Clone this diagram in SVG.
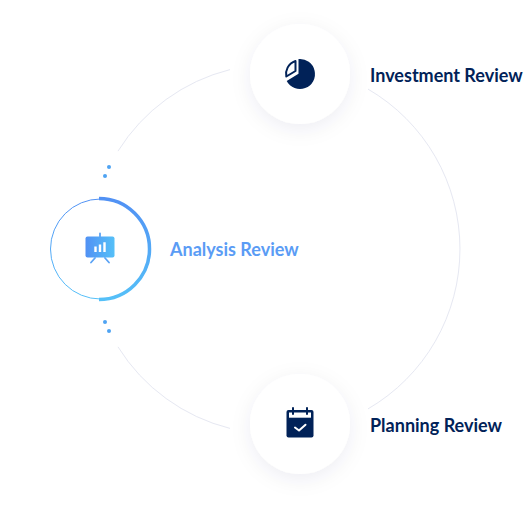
<svg xmlns="http://www.w3.org/2000/svg" width="530" height="514" viewBox="0 0 530 514">
<style>
.lbl{font-family:Lato,"Liberation Sans",sans-serif;font-weight:700;font-size:18px}
.arc{fill:none;stroke:#e6e8f2;stroke-width:1}
.dot{fill:#4fa3f3}
.navy{fill:#012258}
</style>
<defs>
<linearGradient id="g" x1="0" y1="0" x2="0" y2="1"><stop offset="0" stop-color="#5191f4"/><stop offset="1" stop-color="#55c0f8"/></linearGradient>
<linearGradient id="h" x1="0" y1="0" x2="1" y2="0"><stop offset="0" stop-color="#5191f4"/><stop offset="1" stop-color="#55c0f8"/></linearGradient>
<filter id="s" x="-40%" y="-40%" width="180%" height="180%"><feDropShadow dx="0" dy="5" stdDeviation="10" flood-color="#1c2a5a" flood-opacity="0.07"/></filter>
</defs>
<rect width="530" height="514" fill="#fff"/>
<g id="connectors">
<path class="arc" d="M230 69.600A185 185 0 0 0 118 151.100"/>
<path class="arc" d="M368 89.100A185 185 0 0 1 368 408.900"/>
<path class="arc" d="M118 346.900A185 185 0 0 0 230 428.400"/>
<circle class="dot" cx="109" cy="167" r="2"/>
<circle class="dot" cx="105" cy="176" r="2"/>
<circle class="dot" cx="105" cy="322" r="2"/>
<circle class="dot" cx="109" cy="331" r="2"/>
</g>
<g id="investment">
<circle cx="300" cy="74" r="50" fill="#fff" filter="url(#s)"/>
<path class="navy" d="M298.500 59.100A15 15 0 1 1 286.700 81L298.500 73.800Z"/>
<path fill="none" stroke="#012258" stroke-width="2" stroke-linejoin="round" d="M295.500 61V71L286.300 76.500C285 71 288 63.500 295.500 61Z"/>
<text class="lbl" x="370" y="81.500" fill="#012258">Investment Review</text>
</g>
<g id="analysis">
<circle cx="100.500" cy="249" r="50" fill="#fff" stroke="url(#g)" stroke-width="1"/>
<path d="M99 198.500A50.500 50.500 0 0 1 99 299.500" fill="none" stroke="url(#g)" stroke-width="3.500"/>
<rect x="85.500" y="236.500" width="29" height="21" rx="2" fill="url(#h)"/>
<path d="M100 233.500V236.500M95 258L91 262.500M105 258L109 262.500" stroke="#5ba3f5" stroke-width="1.800" stroke-linecap="round" fill="none"/>
<path d="M94.300 246.500h2.400v5.500h-2.400zM98.800 244.500h2.400v7.500h-2.400zM103.300 242.300h2.400v9.700h-2.400z" fill="#fff"/>
<text class="lbl" x="170" y="255.500" fill="#5a9cf5">Analysis Review</text>
</g>
<g id="planning">
<circle cx="300" cy="424" r="50" fill="#fff" filter="url(#s)"/>
<rect class="navy" x="286.500" y="410" width="27" height="27.500" rx="2"/>
<rect x="289" y="412.500" width="22" height="5.200" fill="#fff"/>
<path d="M293 408V414M307 408V414" stroke="#012258" stroke-width="2" stroke-linecap="round"/>
<path d="M295 427.500L299 430.500L305.500 424.700" fill="none" stroke="#fff" stroke-width="2" stroke-linecap="round" stroke-linejoin="round"/>
<text class="lbl" x="370" y="431.500" fill="#012258">Planning Review</text>
</g>
</svg>
